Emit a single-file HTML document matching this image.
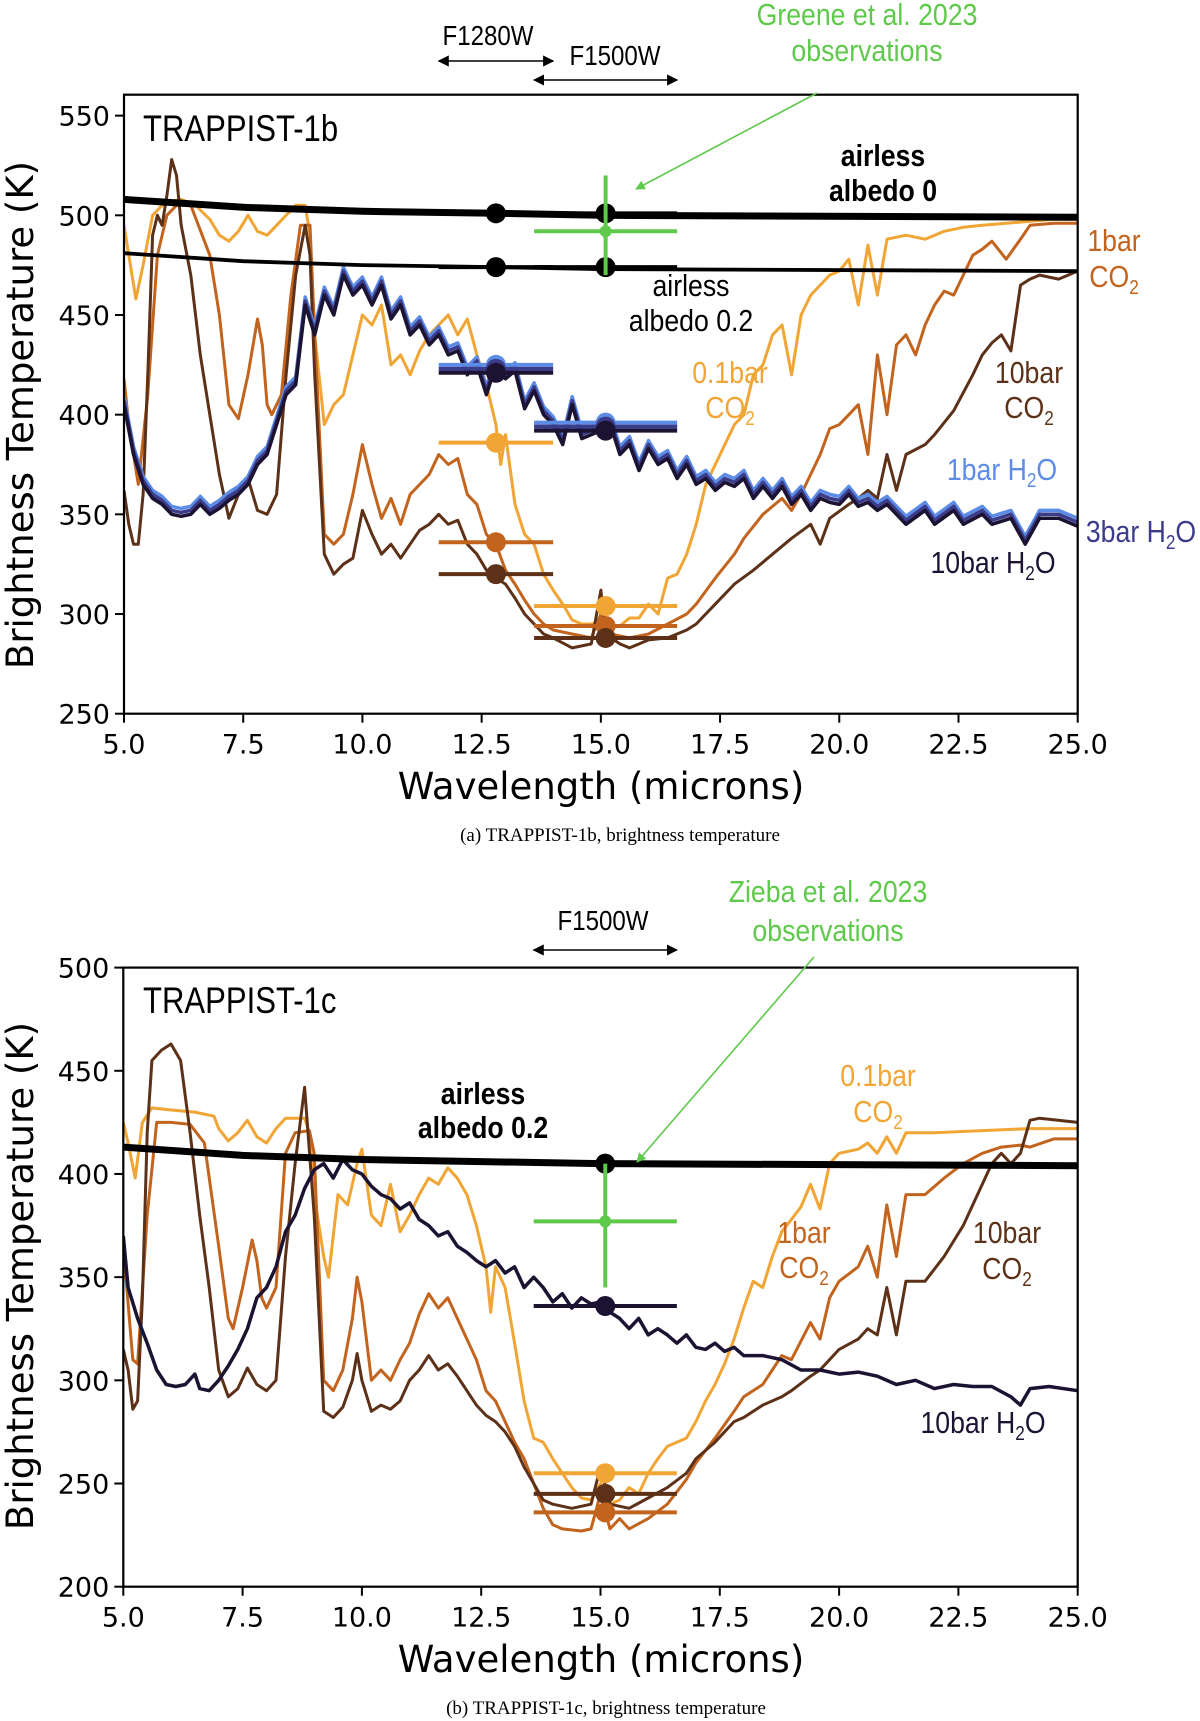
<!DOCTYPE html>
<html><head><meta charset="utf-8"><style>
body{margin:0;background:#fff;width:1200px;height:1721px;overflow:hidden}
svg{display:block}
.tk{font-family:"DejaVu Sans","Liberation Sans",sans-serif;font-size:27px;fill:#000}
.al{font-family:"DejaVu Sans","Liberation Sans",sans-serif;font-size:37px;fill:#000}
.nr{font-family:"Liberation Sans Narrow","Liberation Sans",sans-serif;font-size:31px}
.cap{font-family:"Liberation Serif",serif;font-size:19px;fill:#000}
</style></head><body>
<svg id="fig" width="1200" height="1721" viewBox="0 0 1200 1721" xmlns="http://www.w3.org/2000/svg">
<defs>
<marker id="ah" viewBox="0 0 10 10" refX="9" refY="5" markerWidth="7" markerHeight="7" orient="auto-start-reverse"><path d="M0,0 L10,5 L0,10 z" fill="#000"/></marker>
<marker id="gh" viewBox="0 0 10 10" refX="9" refY="5" markerWidth="6" markerHeight="6" orient="auto"><path d="M0,0 L10,5 L0,10 z" fill="#5ec94a"/></marker>
</defs>
</svg>
<script>
// ---------- Panel (a) TRAPPIST-1b data ----------
const bH2O10_x=[5.0,5.2,5.4,5.6,5.8,6.0,6.2,6.4,6.6,6.8,7.0,7.2,7.4,7.6,7.8,8.0,8.2,8.4,8.6,8.8,9.0,9.2,9.4,9.6,9.8,10.0,10.2,10.4,10.6,10.8,11.0,11.2,11.4,11.6,11.8,12.0,12.2,12.4,12.6,12.8,13.0,13.2,13.4,13.6,13.8,14.0,14.2,14.4,14.6,14.8,15.0,15.2,15.4,15.6,15.8,16.0,16.2,16.4,16.6,16.8,17.0,17.2,17.4,17.6,17.8,18.0,18.2,18.4,18.6,18.8,19.0,19.2,19.4,19.6,19.8,20.0,20.2,20.4,20.6,20.8,21.0,21.4,21.8,22.0,22.4,22.6,23.0,23.2,23.6,23.9,24.2,24.6,25.0];
const bH2O10_y=[405,380,365,358,355,350,349,350,355,350,353,357,360,365,375,380,395,410,415,455,440,460,450,470,460,465,455,465,448,455,440,445,435,440,430,432,420,425,410,425,418,422,403,412,400,395,385,405,388,390,392,395,380,385,372,383,375,378,368,375,365,368,362,366,364,368,358,364,358,364,355,360,352,358,356,355,360,354,356,352,355,345,352,345,352,345,350,345,348,335,348,348,344];
const bH2O3_y=[407,382,367,360,357,352,351,352,357,352,355,359,362,367,377,382,397,412,417,457,442,462,452,472,462,467,457,467,450,457,442,447,437,442,432,434,422,427,412,427,420,424,405,414,402,397,387,407,390,392,394,397,382,387,374,385,377,380,370,377,367,370,364,368,366,370,360,366,360,366,357,362,354,360,358,357,362,356,358,354,357,347,354,347,354,347,352,347,350,337,350,350,346];
const bH2O1_y=[409,384,369,362,359,354,353,354,359,354,357,361,364,369,379,384,399,414,419,459,444,464,454,474,464,469,459,469,452,459,444,449,439,444,434,436,424,429,414,429,422,426,407,416,404,399,389,409,392,394,396,399,384,389,376,387,379,382,372,379,369,372,366,370,368,372,362,368,362,368,359,364,356,362,360,359,364,358,360,356,359,349,356,349,356,349,354,349,352,339,352,352,348];
const bCO2a_x=[5.0,5.1,5.25,5.4,5.6,5.8,6.0,6.2,6.5,6.8,7.0,7.2,7.4,7.6,7.8,8.0,8.2,8.4,8.6,8.8,8.9,9.0,9.2,9.4,9.6,9.8,10.0,10.2,10.4,10.6,10.8,11.0,11.2,11.4,11.6,11.8,12.0,12.2,12.4,12.6,12.8,12.9,13.0,13.2,13.4,13.6,13.8,14.0,14.2,14.4,14.6,14.8,15.0,15.2,15.4,15.6,15.8,16.0,16.2,16.4,16.6,16.8,17.0,17.2,17.4,17.6,17.8,18.0,18.2,18.4,18.6,18.8,19.0,19.2,19.4,19.6,19.8,20.0,20.2,20.4,20.6,20.8,21.0,21.4,21.8,22.2,22.6,23.0,23.5,24.0,24.5,25.0];
const bCO2a_y=[495,480,458,475,500,505,507,508,505,498,490,487,492,500,492,490,495,500,505,505,490,440,395,405,410,430,450,445,455,425,430,420,432,440,445,450,440,448,430,415,395,375,390,355,340,335,320,312,305,297,295,295,296,293,294,298,298,305,300,318,320,330,345,365,375,385,395,400,420,425,440,445,420,450,460,465,470,472,478,455,485,460,488,490,488,492,494,495,496,497,498,498];
const bCO2b_x=[5.0,5.1,5.3,5.5,5.7,5.9,6.1,6.4,6.8,7.0,7.2,7.4,7.6,7.8,7.9,8.0,8.1,8.3,8.5,8.7,8.9,9.0,9.2,9.4,9.6,9.8,10.0,10.2,10.4,10.6,10.8,11.0,11.4,11.6,11.8,12.0,12.2,12.4,12.6,12.8,13.0,13.2,13.4,13.6,13.8,14.0,14.4,14.8,15.0,15.2,15.6,16.0,16.4,16.8,17.0,17.4,17.8,18.0,18.4,18.8,19.0,19.2,19.6,19.8,20.0,20.2,20.4,20.6,20.8,21.0,21.2,21.4,21.6,21.8,22.0,22.2,22.4,22.6,22.8,23.0,23.2,23.5,23.8,24.0,24.5,25.0];
const bCO2b_y=[418,395,365,410,480,500,505,505,480,450,405,398,420,448,435,405,400,410,460,495,495,440,340,335,340,360,385,365,348,358,345,360,370,380,375,378,360,355,340,335,322,315,307,300,295,292,290,288,300,290,288,290,295,300,305,318,330,338,350,358,352,360,380,393,395,400,405,380,430,400,435,440,430,445,455,462,460,470,480,483,487,478,488,495,496,496];
const bCO2c_x=[5.0,5.1,5.2,5.3,5.4,5.5,5.6,5.7,5.8,5.9,6.0,6.1,6.2,6.4,6.6,6.8,7.0,7.2,7.4,7.6,7.8,8.0,8.2,8.4,8.6,8.8,8.9,9.0,9.2,9.4,9.6,9.8,10.0,10.2,10.4,10.6,10.8,11.0,11.2,11.4,11.6,11.8,12.0,12.2,12.4,12.6,12.8,13.0,13.2,13.4,13.6,13.8,14.0,14.4,14.8,15.0,15.1,15.4,15.6,16.0,16.4,16.8,17.0,17.4,17.8,18.2,18.6,19.0,19.4,19.6,19.8,20.2,20.4,20.6,20.8,21.0,21.2,21.4,21.8,22.0,22.4,22.8,23.0,23.2,23.4,23.6,23.8,24.0,24.2,24.6,25.0];
const bCO2c_y=[362,345,335,335,360,420,490,500,495,510,528,520,495,470,430,400,370,348,360,368,352,350,360,420,470,495,480,420,330,320,325,328,352,340,330,335,328,335,342,345,350,345,347,335,330,322,318,315,308,300,295,290,288,283,285,312,290,285,283,287,288,292,295,305,315,322,330,338,345,335,348,355,358,362,358,380,362,380,385,390,402,420,430,436,440,432,465,468,470,468,472];
const bAirless0_x=[5,7.5,10,12.8,15,25];
const bAirless0_y=[508,504,502,501,500,499];
const bAirless2_x=[5,7.5,10,12.8,15,25];
const bAirless2_y=[481,477,475,474,473,472];
// filter-averaged points: [12.8 µm, 15.1 µm]
const bPtH2O10=[421,392], bPtH2O3=[423,394], bPtH2O1=[425,396];
const bPtCO2a=[386,304], bPtCO2b=[336,294], bPtCO2c=[320,288];
const bPtAir0=[501,501], bPtAir2=[474,474];
const bObs=[15.1,492,470,520];

// ---------- Panel (b) TRAPPIST-1c data ----------
const cH2O_x=[5.0,5.1,5.3,5.5,5.7,5.9,6.1,6.3,6.5,6.6,6.8,7.0,7.2,7.4,7.6,7.8,8.0,8.2,8.4,8.6,8.8,9.0,9.2,9.4,9.6,9.8,10.0,10.2,10.4,10.6,10.8,11.0,11.2,11.4,11.6,11.8,12.0,12.2,12.4,12.6,12.8,13.0,13.2,13.4,13.6,13.8,14.0,14.2,14.4,14.6,14.8,15.0,15.2,15.4,15.6,15.8,16.0,16.2,16.4,16.6,16.8,17.0,17.2,17.4,17.6,17.8,18.0,18.4,18.8,19.2,19.6,20.0,20.4,20.8,21.2,21.6,22.0,22.4,22.8,23.2,23.6,23.8,24.0,24.4,25.0];
const cH2O_y=[370,345,330,318,305,298,297,298,303,296,295,300,307,315,325,340,345,355,372,380,393,402,405,398,407,402,400,394,390,388,383,386,378,375,370,372,365,362,358,355,358,352,355,345,350,345,338,342,335,340,337,338,333,330,325,330,322,325,322,318,322,316,315,318,314,316,312,312,310,305,305,303,304,302,298,300,296,298,297,297,292,288,296,297,295];
const cCO2a_x=[5.0,5.1,5.25,5.4,5.6,6.0,6.5,6.9,7.0,7.2,7.4,7.6,7.8,8.0,8.2,8.4,8.8,8.9,9.0,9.2,9.3,9.5,9.7,9.9,10.0,10.2,10.4,10.6,10.8,11.0,11.2,11.4,11.6,11.8,12.0,12.2,12.4,12.6,12.7,12.8,13.0,13.2,13.4,13.6,13.8,14.0,14.2,14.4,14.6,14.8,15.0,15.2,15.4,15.6,15.8,16.0,16.2,16.4,16.8,17.0,17.2,17.4,17.6,17.8,18.0,18.2,18.4,18.6,18.8,19.0,19.2,19.4,19.6,19.8,20.0,20.4,20.6,20.8,21.0,21.2,21.4,22.0,23.0,24.0,25.0];
const cCO2a_y=[425,415,398,425,432,431,430,428,422,416,420,426,418,415,422,427,427,420,390,360,350,390,385,405,412,380,375,395,372,380,390,398,395,403,398,390,375,355,333,355,345,318,290,272,270,262,255,248,243,242,250,240,242,248,245,255,262,268,272,280,290,298,308,320,335,348,345,360,372,378,384,395,383,405,410,412,415,410,418,410,420,420,421,422,422];
const cCO2b_x=[5.0,5.2,5.3,5.5,5.7,6.0,6.4,6.7,7.0,7.2,7.3,7.5,7.7,7.8,7.9,8.0,8.2,8.4,8.6,8.9,9.0,9.2,9.4,9.6,9.8,9.9,10.0,10.2,10.4,10.6,10.8,11.0,11.2,11.4,11.6,11.8,12.0,12.2,12.4,12.6,12.8,13.0,13.2,13.4,13.6,13.8,14.0,14.2,14.6,14.8,15.0,15.2,15.4,15.6,16.0,16.4,16.8,17.0,17.4,17.8,18.0,18.4,18.6,18.8,19.0,19.4,19.6,19.8,20.0,20.4,20.6,20.8,21.0,21.2,21.4,21.8,22.2,22.6,23.0,23.4,23.8,24.0,24.5,25.0];
const cCO2b_y=[365,310,308,380,425,425,424,415,365,330,325,345,368,358,340,335,345,410,420,421,410,300,295,305,330,350,338,300,305,300,310,318,332,342,335,340,330,320,310,295,290,280,270,262,250,238,230,228,227,228,245,228,233,228,233,240,252,260,272,285,292,298,305,312,310,328,320,340,348,355,365,350,385,360,390,390,398,405,410,413,414,413,417,417];
const cCO2c_x=[5.0,5.1,5.2,5.3,5.4,5.5,5.6,5.8,6.0,6.2,6.4,6.6,6.8,7.0,7.2,7.4,7.6,7.8,8.0,8.2,8.4,8.6,8.8,9.0,9.2,9.4,9.6,9.8,9.9,10.0,10.2,10.4,10.6,10.8,11.0,11.2,11.4,11.6,11.8,12.0,12.2,12.4,12.6,12.8,13.0,13.2,13.4,13.6,13.8,14.0,14.4,14.8,15.0,15.2,15.6,16.0,16.4,16.8,17.0,17.4,17.8,18.0,18.4,18.8,19.0,19.4,19.6,20.0,20.4,20.6,20.8,21.0,21.2,21.4,21.8,22.2,22.6,23.0,23.2,23.4,23.6,23.8,24.0,24.2,25.0];
const cCO2c_y=[315,305,286,290,340,420,455,460,463,455,420,380,345,305,292,296,306,298,295,300,360,405,442,380,285,282,287,300,313,300,285,288,286,290,300,305,312,305,308,302,295,288,283,280,275,268,258,250,242,240,238,240,258,240,238,243,248,255,262,270,280,282,288,292,295,302,305,315,320,325,322,345,322,348,348,360,375,395,405,410,405,410,426,427,425];
const cAirless2_x=[5,7.5,10,12.5,15,25];
const cAirless2_y=[413,409,407,406,405,404];
const cPt=[336,255,236,245,405]; // H2O, 0.1bar, 1bar, 10bar, airless at 15.1
const cObs=[15.1,377,345,405];

const NS='http://www.w3.org/2000/svg';
const svg=document.getElementById('fig');
function el(tag,attrs,parent){const e=document.createElementNS(NS,tag);for(const k in attrs)e.setAttribute(k,attrs[k]);(parent||svg).appendChild(e);return e;}
function mkAxes(x0,x1,y0,y1,xmin,xmax,ymin,ymax){return{x:v=>x0+(v-xmin)/(xmax-xmin)*(x1-x0),y:v=>y1-(v-ymin)/(ymax-ymin)*(y1-y0),x0,x1,y0,y1};}
function line(ax,xs,ys,color,w,name,g){
  const d=xs.map((v,i)=>(i?'L':'M')+ax.x(v).toFixed(1)+','+ax.y(ys[i]).toFixed(1)).join('');
  const p=el('path',{d:d,fill:'none',stroke:color,'stroke-width':w,'stroke-linejoin':'round'},g);
  
  
}
function pt(ax,xc,lo,hi,val,color,name,g,lw){
  const h=el('line',{x1:ax.x(lo),x2:ax.x(hi),y1:ax.y(val),y2:ax.y(val),stroke:color,'stroke-width':lw||4},g);
  
  
  const c=el('circle',{cx:ax.x(xc),cy:ax.y(val),r:10,fill:color},g);
  
  
}
function txt(x,y,s,cls,attrs,name){const t=el('text',Object.assign({x:x,y:y,class:cls},attrs||{}));t.innerHTML=s;return t;}
function ntxt(x,y,s,attrs,name,sx){const a=Object.assign({},attrs||{});a.transform='translate('+x+','+y+') scale('+(sx||0.86)+',1)';return txt(0,0,s,'nr',a,name);}
function frame(ax,xt,yt,g,name){
  const r=el('rect',{x:ax.x0,y:ax.y0,width:ax.x1-ax.x0,height:ax.y1-ax.y0,fill:'none',stroke:'#000','stroke-width':2.2},g);
  
  
  xt.forEach(v=>{const X=ax.x(v);el('line',{x1:X,x2:X,y1:ax.y1,y2:ax.y1+9,stroke:'#000','stroke-width':2},g);
    txt(X,ax.y1+40,v.toFixed(1),'tk',{'text-anchor':'middle'},'x-tick-label');});
  yt.forEach(v=>{const Y=ax.y(v);el('line',{x1:ax.x0-9,x2:ax.x0,y1:Y,y2:Y,stroke:'#000','stroke-width':2},g);
    txt(ax.x0-14,Y+10,String(v),'tk',{'text-anchor':'end'},'y-tick-label');});
}
const xticks=[5,7.5,10,12.5,15,17.5,20,22.5,25];
const C={a:'#f0a535',b:'#c2641e',c:'#5c3118',h10:'#1c1232',h3:'#3b3d8a',h1:'#5c8ce6',g:'#5ec94a'};
const SUB='CO<tspan dy="7" font-size="20">2</tspan>';
const H2O='H<tspan dy="7" font-size="20">2</tspan><tspan dy="-7">O</tspan>';

// ===== Panel A =====
const A=mkAxes(124,1077.7,94.7,713.7,5,25,250,560.5);
const gA=el('g',{});


const clipA=el('clipPath',{id:'cA'});el('rect',{x:A.x0,y:A.y0,width:A.x1-A.x0,height:A.y1-A.y0},clipA);
const gAc=el('g',{'clip-path':'url(#cA)'},gA);
line(A,bCO2a_x,bCO2a_y,C.a,3,'series-0.1bar-co2',gAc);
line(A,bCO2b_x,bCO2b_y,C.b,3,'series-1bar-co2',gAc);
line(A,bCO2c_x,bCO2c_y,C.c,3,'series-10bar-co2',gAc);
line(A,bH2O10_x,bH2O1_y,C.h1,3.5,'series-1bar-h2o',gAc);
line(A,bH2O10_x,bH2O3_y,C.h3,3.5,'series-3bar-h2o',gAc);
line(A,bH2O10_x,bH2O10_y,C.h10,3.5,'series-10bar-h2o',gAc);
line(A,bAirless0_x,bAirless0_y,'#000',7,'airless-albedo-0',gAc);
line(A,bAirless2_x,bAirless2_y,'#000',3.8,'airless-albedo-0.2',gAc);
const fa=[[11.6,14.0,12.8],[13.6,16.6,15.1]];
[[bPtH2O1,C.h1],[bPtH2O3,C.h3],[bPtH2O10,C.h10],[bPtCO2a,C.a],[bPtCO2b,C.b],[bPtCO2c,C.c],[bPtAir0,'#000'],[bPtAir2,'#000']].forEach(s=>{
  fa.forEach((f,i)=>pt(A,f[2],f[0],f[1],s[0][i],s[1],'filter-point',gA));
});
el('line',{x1:A.x(bObs[0]),x2:A.x(bObs[0]),y1:A.y(bObs[2]),y2:A.y(bObs[3]),stroke:C.g,'stroke-width':4},gA);
el('line',{x1:A.x(13.6),x2:A.x(16.6),y1:A.y(bObs[1]),y2:A.y(bObs[1]),stroke:C.g,'stroke-width':4},gA);
el('circle',{cx:A.x(bObs[0]),cy:A.y(bObs[1]),r:6,fill:C.g},gA);
frame(A,xticks,[250,300,350,400,450,500,550],gA,'plot-frame-a');
ntxt(143,141,'TRAPPIST-1b',{style:'font-size:37px'},'panel-title-a',0.84);
ntxt(883,166,'airless',{'text-anchor':'middle','font-weight':'bold'},'label-airless-0');
ntxt(883,201,'albedo 0',{'text-anchor':'middle','font-weight':'bold'},'label-albedo-0');
ntxt(691,296,'airless',{'text-anchor':'middle'},'label-airless-02');
ntxt(691,331,'albedo 0.2',{'text-anchor':'middle'},'label-albedo-02');
ntxt(1114,251,'1bar',{'text-anchor':'middle',fill:C.b},'label-1bar-co2');
ntxt(1114,287,SUB,{'text-anchor':'middle',fill:C.b},'label-1bar-co2-b');
ntxt(730,383,'0.1bar',{'text-anchor':'middle',fill:C.a},'label-01bar-co2');
ntxt(730,418,SUB,{'text-anchor':'middle',fill:C.a},'label-01bar-co2-b');
ntxt(1029,383,'10bar',{'text-anchor':'middle',fill:C.c},'label-10bar-co2');
ntxt(1029,418,SUB,{'text-anchor':'middle',fill:C.c},'label-10bar-co2-b');
ntxt(1002,480,'1bar '+H2O,{'text-anchor':'middle',fill:C.h1},'label-1bar-h2o');
ntxt(1141,542,'3bar '+H2O,{'text-anchor':'middle',fill:C.h3},'label-3bar-h2o');
ntxt(993,573,'10bar '+H2O,{'text-anchor':'middle',fill:C.h10},'label-10bar-h2o');
ntxt(488,45,'F1280W',{'text-anchor':'middle',style:'font-size:28px'},'label-f1280w');
el('line',{x1:A.x(11.6),x2:A.x(14.0),y1:61,y2:61,stroke:'#000','stroke-width':1.6,'marker-start':'url(#ah)','marker-end':'url(#ah)'});
ntxt(615,65,'F1500W',{'text-anchor':'middle',style:'font-size:28px'},'label-f1500w-a');
el('line',{x1:A.x(13.6),x2:A.x(16.6),y1:80,y2:80,stroke:'#000','stroke-width':1.6,'marker-start':'url(#ah)','marker-end':'url(#ah)'});
ntxt(867,25,'Greene et al. 2023',{'text-anchor':'middle',fill:C.g},'label-greene');
ntxt(867,61,'observations',{'text-anchor':'middle',fill:C.g},'label-greene-b');
el('line',{x1:817,y1:93,x2:636,y2:189,stroke:C.g,'stroke-width':1.6,'marker-end':'url(#gh)'});
txt(601,799,'Wavelength (microns)','al',{'text-anchor':'middle'},'x-axis-title-a');
txt(0,0,'Brightness Temperature (K)','al',{'text-anchor':'middle',transform:'translate(33,415) rotate(-90)'},'y-axis-title-a');
txt(620,841,'(a) TRAPPIST-1b, brightness temperature','cap',{'text-anchor':'middle'},'caption-a');

// ===== Panel B =====
const B=mkAxes(123.3,1077.7,967.6,1586.7,5,25,200,500);
const gB=el('g',{});


const clipB=el('clipPath',{id:'cB'});el('rect',{x:B.x0,y:B.y0,width:B.x1-B.x0,height:B.y1-B.y0},clipB);
const gBc=el('g',{'clip-path':'url(#cB)'},gB);
line(B,cCO2a_x,cCO2a_y,C.a,3,'series-0.1bar-co2',gBc);
line(B,cCO2b_x,cCO2b_y,C.b,3,'series-1bar-co2',gBc);
line(B,cCO2c_x,cCO2c_y,C.c,3,'series-10bar-co2',gBc);
line(B,cH2O_x,cH2O_y,C.h10,3.5,'series-10bar-h2o',gBc);
line(B,cAirless2_x,cAirless2_y,'#000',7,'airless-albedo-0.2',gBc);
[[cPt[0],C.h10],[cPt[1],C.a],[cPt[3],C.c],[cPt[2],C.b],[cPt[4],'#000']].forEach(s=>pt(B,15.1,13.6,16.6,s[0],s[1],'filter-point',gB));
el('line',{x1:B.x(cObs[0]),x2:B.x(cObs[0]),y1:B.y(cObs[2]),y2:B.y(cObs[3]),stroke:C.g,'stroke-width':4},gB);
el('line',{x1:B.x(13.6),x2:B.x(16.6),y1:B.y(cObs[1]),y2:B.y(cObs[1]),stroke:C.g,'stroke-width':4},gB);
el('circle',{cx:B.x(cObs[0]),cy:B.y(cObs[1]),r:6,fill:C.g},gB);
frame(B,xticks,[200,250,300,350,400,450,500],gB,'plot-frame-b');
ntxt(143,1013,'TRAPPIST-1c',{style:'font-size:37px'},'panel-title-b',0.84);
ntxt(483,1104,'airless',{'text-anchor':'middle','font-weight':'bold'},'label-airless-02-c');
ntxt(483,1138,'albedo 0.2',{'text-anchor':'middle','font-weight':'bold'},'label-albedo-02-c');
ntxt(878,1086,'0.1bar',{'text-anchor':'middle',fill:C.a},'label-01bar-co2-c');
ntxt(878,1122,SUB,{'text-anchor':'middle',fill:C.a},'label-01bar-co2-c2');
ntxt(804,1243,'1bar',{'text-anchor':'middle',fill:C.b},'label-1bar-co2-c');
ntxt(804,1278,SUB,{'text-anchor':'middle',fill:C.b},'label-1bar-co2-c2');
ntxt(1007,1243,'10bar',{'text-anchor':'middle',fill:C.c},'label-10bar-co2-c');
ntxt(1007,1279,SUB,{'text-anchor':'middle',fill:C.c},'label-10bar-co2-c2');
ntxt(983,1433,'10bar '+H2O,{'text-anchor':'middle',fill:C.h10},'label-10bar-h2o-c');
ntxt(603,930,'F1500W',{'text-anchor':'middle',style:'font-size:28px'},'label-f1500w-b');
el('line',{x1:B.x(13.6),x2:B.x(16.6),y1:950,y2:950,stroke:'#000','stroke-width':1.6,'marker-start':'url(#ah)','marker-end':'url(#ah)'});
ntxt(828,902,'Zieba et al. 2023',{'text-anchor':'middle',fill:C.g},'label-zieba');
ntxt(828,941,'observations',{'text-anchor':'middle',fill:C.g},'label-zieba-b');
el('line',{x1:814,y1:957,x2:637,y2:1162,stroke:C.g,'stroke-width':1.6,'marker-end':'url(#gh)'});
txt(601,1672,'Wavelength (microns)','al',{'text-anchor':'middle'},'x-axis-title-b');
txt(0,0,'Brightness Temperature (K)','al',{'text-anchor':'middle',transform:'translate(33,1276) rotate(-90)'},'y-axis-title-b');
txt(606,1714,'(b) TRAPPIST-1c, brightness temperature','cap',{'text-anchor':'middle'},'caption-b');
</script>
</body></html>
